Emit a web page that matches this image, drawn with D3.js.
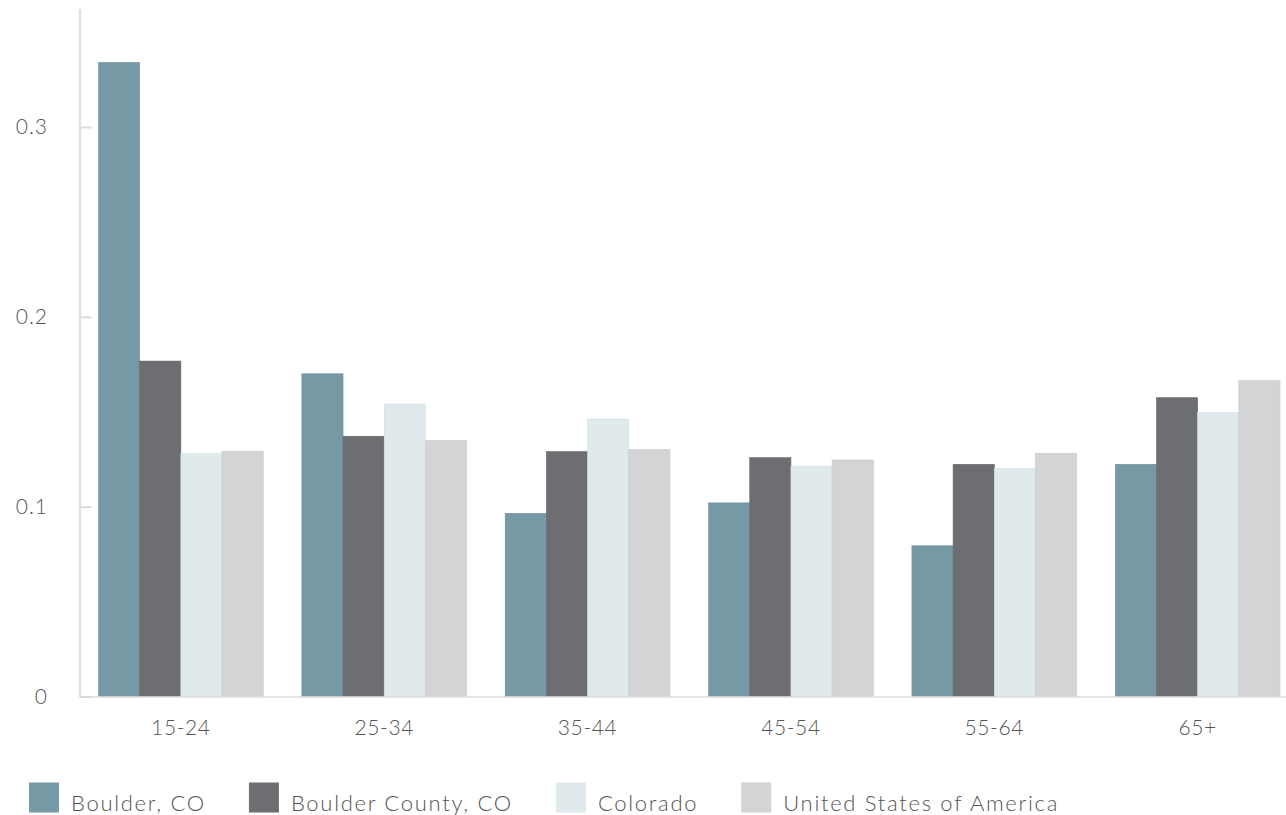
<!DOCTYPE html>
<html>
<head>
<meta charset="utf-8">
<script src="https://cdn.jsdelivr.net/npm/d3@7"></script>
<style>
  html, body { margin: 0; padding: 0; background: #fff; }
  svg { display: block; }
  text { font-family: Lato, "Open Sans", sans-serif; font-weight: 300; fill: #555; }
</style>
</head>
<body>
<svg id="chart" width="1286" height="815"></svg>
<script>
const categories = ["15-24", "25-34", "35-44", "45-54", "55-64", "65+"];
const seriesNames = ["Boulder, CO", "Boulder County, CO", "Colorado", "United States of America"];
const boulderCity = [0.334, 0.170, 0.0965, 0.102, 0.0794, 0.1223];
const boulderCounty = [0.1767, 0.1371, 0.129, 0.1258, 0.1223, 0.1574];
const colorado = [0.1279, 0.1541, 0.1462, 0.1213, 0.1202, 0.1497];
const usa = [0.1292, 0.1348, 0.1302, 0.1246, 0.1281, 0.1664];
const yTicks = [0, 0.1, 0.2, 0.3];
const colors = ["#7799a5", "#6d6e72", "#e0e9ec", "#d3d4d6"];

const seriesValues = [boulderCity, boulderCounty, colorado, usa];

const svg = d3.select("#chart");
const W = 1286;
const y0 = 696.5;
const yPer = 1898.3;
const y = d3.scaleLinear().domain([0, 0.3]).range([y0, y0 - 0.3 * yPer]);

const x = d3.scaleBand().domain(categories).range([98.5, 1280]).paddingInner(0.19).paddingOuter(0);
const xs = d3.scaleBand().domain(seriesNames).range([0, x.bandwidth()]).padding(0);

// y axis line
svg.append("line").attr("x1", 80).attr("x2", 80).attr("y1", 9).attr("y2", y0 + 1)
  .attr("stroke", "#e2e2e2").attr("stroke-width", 2.5);

// bars
const g = svg.append("g");
categories.forEach((c, i) => {
  seriesNames.forEach((s, j) => {
    const v = seriesValues[j][i];
    g.append("rect")
      .attr("x", x(c) + xs(s))
      .attr("y", y(v))
      .attr("width", xs.bandwidth())
      .attr("height", y(0) - y(v))
      .attr("fill", colors[j])
      .attr("stroke", d3.color(colors[j]).darker(0.15))
      .attr("stroke-width", 0.6);
  });
});

svg.append("line").attr("x1", 80).attr("x2", W).attr("y1", y0 + 0.5).attr("y2", y0 + 0.5)
  .attr("stroke", "#dcdcdc").attr("stroke-width", 1.5);

// y axis ticks & labels
const yAxis = d3.axisRight(y).tickValues(yTicks).tickSize(11).tickPadding(0).tickFormat(d3.format(""));
const ya = svg.append("g").attr("transform", "translate(80.5,0)").call(yAxis);
ya.select(".domain").remove();
ya.selectAll(".tick line").attr("stroke", "#dadada").attr("stroke-width", 2);
ya.selectAll(".tick text").remove();
yTicks.forEach(t => {
  svg.append("text").attr("x", 48).attr("y", y(t)).attr("dy", "0.35em")
    .attr("text-anchor", "end").style("font-size", "21px").style("letter-spacing", "1px")
    .text(d3.format("")(t));
});

// x axis labels
const xAxis = d3.axisBottom(x).tickSize(0).tickPadding(0);
const xa = svg.append("g").attr("transform", "translate(0," + y0 + ")").call(xAxis);
xa.select(".domain").remove();
xa.selectAll(".tick text").attr("y", 38).attr("dy", 0)
  .style("font-size", "21px").style("font-family", "Lato, sans-serif").style("font-weight", 300)
  .style("letter-spacing", "0.6px").attr("fill", "#555");

// legend
let lx = 29;
const ly = 782.5;
seriesNames.forEach((s, j) => {
  svg.append("rect").attr("x", lx).attr("y", ly).attr("width", 30).attr("height", 30).attr("fill", colors[j]);
  const t = svg.append("text").attr("x", lx + 42).attr("y", ly + 28)
    .style("font-size", "22px").style("letter-spacing", "1.7px").attr("fill", "#666").text(s);
  lx = lx + 42 + t.node().getComputedTextLength() + 43;
});
</script>
</body>
</html>
